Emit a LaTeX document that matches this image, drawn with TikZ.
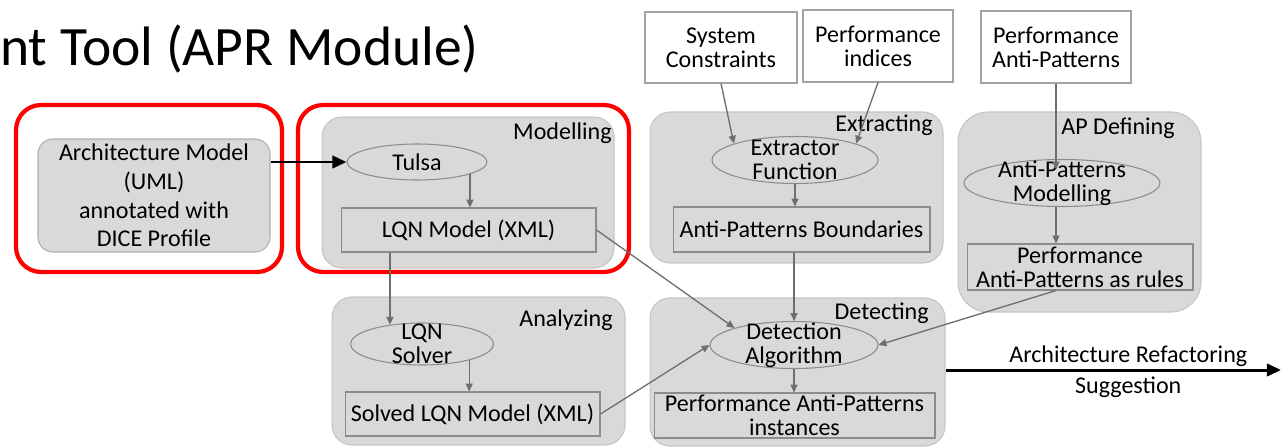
\documentclass[tikz,border=0pt]{standalone}
\usepackage{fontspec}
\setmainfont{Carlito}
\usetikzlibrary{shapes.geometric,arrows.meta}

\definecolor{panelfill}{HTML}{D9D9D9}
\definecolor{panelline}{HTML}{C4C4C4}
\definecolor{boxline}{HTML}{8C8C8C}
\definecolor{arrowgray}{HTML}{6E6E6E}
\definecolor{redframe}{HTML}{FF0000}

\tikzset{
  panel/.style={draw=panelline, fill=panelfill, rounded corners=0.4cm, line width=0.6pt, inner sep=0pt},
  redbox/.style={draw=redframe, line width=2.4pt, rounded corners=0.5cm, minimum height=3.34cm, inner sep=0pt},
  box/.style={draw=boxline, fill=panelfill, line width=0.6pt, inner sep=0pt, align=center, minimum height=0.88cm},
  inbox/.style={draw=boxline!80, fill=white, line width=0.6pt, inner sep=0pt, align=center},
  proc/.style={ellipse, draw=boxline, fill=panelfill, line width=0.6pt, inner sep=0pt},
  txt/.style={align=center, inner sep=0pt},
  tag/.style={inner sep=0pt, anchor=east},
  flow/.style={draw=arrowgray, line width=0.75pt, -{Triangle[length=4.5pt,width=4pt]}},
  bigflow/.style={draw=black, line width=1.7pt, -{Triangle[length=8pt,width=7pt]}}
}

\begin{document}
\begin{tikzpicture}[x=0.02cm, y=-0.02cm, font=\fontsize{13.7pt}{13.5pt}\selectfont]
\useasboundingbox (0,0) rectangle (1282,447);

% title
\node[inner sep=0pt, anchor=base west, font=\fontsize{31.6pt}{36pt}\selectfont] (title) at (0,65) {nt Tool (APR Module)};

% panels
\node[panel, minimum width=5.84cm, minimum height=3.02cm] (modelling) at (468,192.5) {};
\node[panel, minimum width=5.86cm, minimum height=2.96cm] (analyzing) at (478.5,371) {};
\node[panel, minimum width=5.86cm, minimum height=3.02cm] (extracting) at (796.5,187.5) {};
\node[panel, minimum width=5.90cm, minimum height=2.96cm] (detecting) at (797.5,372) {};
\node[panel, rounded corners=0.6cm, minimum width=4.86cm, minimum height=4.0cm] (apdef) at (1079.5,212) {};

\node[tag] (modtag) at (612,133) {Modelling};
\node[tag] (anatag) at (613,320) {Analyzing};
\node[tag] (exttag) at (933,125) {Extracting};
\node[tag] (dettag) at (929,313) {Detecting};
\node[tag] (aptag) at (1175,128) {AP Defining};

% input model and red frames
\node[box, rounded corners=0.3cm, draw=boxline!70, minimum width=4.64cm, minimum height=2.26cm,
      font=\fontsize{13.7pt}{16.3pt}\selectfont] (arch) at (154,195.5)
      {Architecture Model\\(UML)\\annotated with\\DICE Profile};
\node[redbox, minimum width=5.32cm] (redA) at (149,188.5) {};
\node[redbox, minimum width=6.62cm] (redB) at (463.5,188.5) {};

% external inputs
\node[inbox, minimum width=3.04cm, minimum height=1.42cm] (sc) at (721,47.5) {System\\Constraints};
\node[inbox, minimum width=3.0cm, minimum height=1.44cm] (pi) at (878,46) {Performance\\indices};
\node[inbox, minimum width=3.0cm, minimum height=1.44cm] (pap) at (1056,47) {Performance\\Anti-Patterns};

% processes
\node[proc, minimum width=2.8cm, minimum height=0.72cm, label={[txt]center:Tulsa}] (tulsa) at (417,162) {};
\node[proc, minimum width=2.86cm, minimum height=0.84cm, label={[txt]center:LQN\\Solver}] (solver) at (422,344) {};
\node[proc, minimum width=3.32cm, minimum height=0.94cm, label={[txt]center:Extractor\\Function}] (extractor) at (795,160) {};
\node[proc, minimum width=3.92cm, minimum height=0.94cm, label={[txt]center:Anti-Patterns\\Modelling}] (apm) at (1062,183) {};
\node[proc, minimum width=3.36cm, minimum height=0.94cm, label={[txt]center:Detection\\Algorithm}] (detect) at (794,345) {};

% artefacts
\node[box, minimum width=5.1cm] (lqn) at (468.5,230) {LQN Model (XML)};
\node[box, minimum width=5.1cm] (solved) at (472.5,414) {Solved LQN Model (XML)};
\node[box, minimum width=5.14cm, minimum height=0.9cm] (apb) at (801.5,229.5) {Anti-Patterns Boundaries};
\node[box, minimum width=4.52cm, minimum height=0.92cm] (rules) at (1080,267) {Performance\\Anti-Patterns as rules};
\node[box, minimum width=5.62cm, minimum height=0.9cm] (inst) at (794.5,415.5) {Performance Anti-Patterns\\instances};

\coordinate (sugg) at (1281,370);

% connectors
\draw[bigflow] (arch.east |- tulsa.west) -- (tulsa.west);
\draw[flow] (tulsa.-13) -- (tulsa.-13 |- lqn.north);
\draw[flow] (lqn.south -| solver.149) -- (solver.149);
\draw[flow] (solver.-19) -- (solver.-19 |- solved.north);
\draw[flow] (lqn.east) -- (detect.164);
\draw[flow] (solved.east) -- (detect.west);
\draw[flow] (sc.south) -- (extractor.165);
\draw[flow] (pi.south) -- (extractor.15);
\draw[flow] (extractor.south) -- (extractor.south |- apb.north);
\draw[flow] (apb.south -| detect.north) -- (detect.north);
\draw[flow] (pap.south) -- ([yshift=-6pt]pap.south |- apm.north);
\draw[flow] (apm.south -| pap.south) -- (pap.south |- rules.north);
\draw[flow] (rules.south -| pap.south) -- (detect.east);
\draw[flow] (detect.south) -- (detect.south |- inst.north);
\draw[bigflow] (detecting.east |- sugg) -- (sugg)
  node[midway, above=1pt, xshift=0.3cm, txt] (suggtop) {Architecture Refactoring}
  node[midway, below=3pt, xshift=0.3cm, txt] (suggbot) {Suggestion};
\end{tikzpicture}
\end{document}
